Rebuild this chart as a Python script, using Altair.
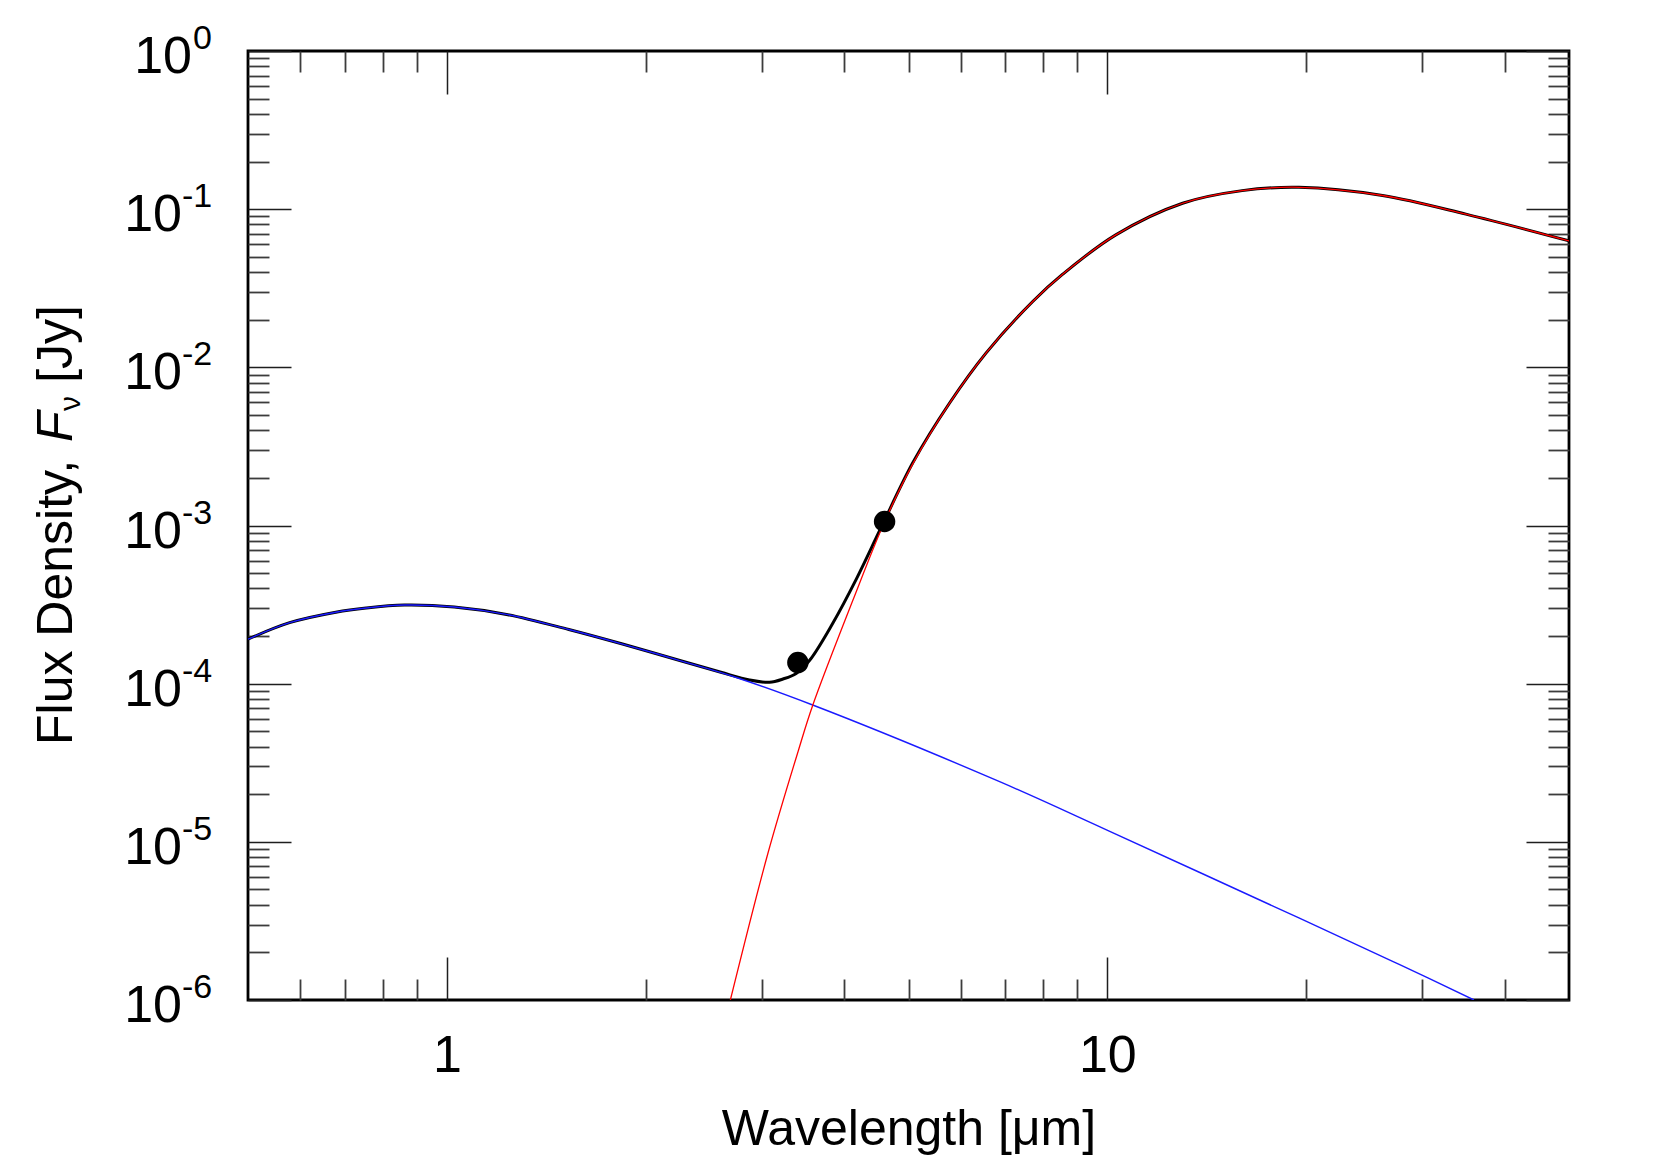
import altair as alt
import pandas as pd

FONT = "Liberation Sans"

# ---- data ----
# stellar photosphere (blue)
star_wl = [0.5, 0.578, 0.679, 0.755, 0.863, 1.026, 1.237, 1.53, 1.845, 2.253, 2.75, 3.58, 6.87, 9.97, 19.5, 27.66, 35.9]
star_flux = [1.91e-4, 2.43e-4, 2.83e-4, 3.01e-4, 3.14e-4, 3.05e-4, 2.73e-4, 2.20e-4, 1.78e-4, 1.40e-4, 1.09e-4,
             7.33e-5, 2.40e-5, 1.19e-5, 3.30e-6, 1.68e-6, 1.0e-6]

# warm dust (red)
dust_wl = [2.687, 3.063, 3.408, 3.582, 4.12, 4.60, 5.08, 5.77, 6.55, 7.71, 8.56, 10.3, 13.0, 16.0, 19.5, 26.1, 34.9, 50.0]
dust_flux = [1.0e-6, 8.47e-6, 3.81e-5, 7.33e-5, 3.38e-4, 1.057e-3, 2.47e-3, 5.93e-3, 1.23e-2, 2.61e-2, 3.88e-2,
             6.88e-2, 0.109, 0.131, 0.1375, 0.122, 0.093, 0.063]

# total model (black)
total_wl = [0.5, 0.578, 0.679, 0.755, 0.863, 1.026, 1.237, 1.53, 1.845, 2.253, 2.6, 2.873, 3.08, 3.228, 3.38, 3.54,
            3.84, 4.17, 4.47, 4.60, 5.08, 5.77, 6.55, 7.71, 8.56, 10.3, 13.0, 16.0, 19.5, 26.1, 34.9, 50.0]
total_flux = [1.91e-4, 2.43e-4, 2.83e-4, 3.01e-4, 3.14e-4, 3.05e-4, 2.73e-4, 2.20e-4, 1.78e-4, 1.40e-4, 1.18e-4,
              1.055e-4, 1.02e-4, 1.07e-4, 1.16e-4, 1.40e-4, 2.41e-4, 4.6e-4, 8.4e-4, 1.08e-3, 2.51e-3, 5.95e-3,
              1.23e-2, 2.61e-2, 3.88e-2, 6.88e-2, 0.109, 0.131, 0.1375, 0.122, 0.093, 0.063]

# photometry points
phot_wl = [3.4, 4.6]
phot_flux = [1.36e-4, 1.06e-3]

# axis ticks / labels
x_major = [1, 10]
x_minor = [0.6, 0.7, 0.8, 0.9, 2, 3, 4, 5, 6, 7, 8, 9, 20, 30, 40]
y_major = [1, 0.1, 0.01, 1e-3, 1e-4, 1e-5, 1e-6]
y_exps = ["0", "-1", "-2", "-3", "-4", "-5", "-6"]
y_minor = [m * 10.0 ** e for e in range(-6, 0) for m in range(2, 10)]

# y-axis title pieces
ytitle_parts = ["Flux Density, ", "F", "ν", "[Jy]"]

star = pd.DataFrame({"wl": star_wl, "f": star_flux})
dust = pd.DataFrame({"wl": dust_wl, "f": dust_flux})
total = pd.DataFrame({"wl": total_wl, "f": total_flux})
phot = pd.DataFrame({"wl": phot_wl, "f": phot_flux})
ylab = pd.DataFrame({"v": y_major, "exp": y_exps})

W, H = 1321, 949
xs = alt.Scale(type="log", domain=[0.5, 50], nice=False)
ys = alt.Scale(type="log", domain=[1e-6, 1], nice=False)

MAJ, MIN = 43, 21


def tick_axis(orient, values, size, color, width):
    return alt.Axis(orient=orient, values=values, tickSize=size, offset=-size, labels=False,
                    domain=False, grid=False, ticks=True, tickColor=color, tickWidth=width)


def major_axis(orient, values):
    return tick_axis(orient, values, MAJ, "#1e1e1e", 1.5)


def minor_axis(orient, values):
    return tick_axis(orient, values, MIN, "#3c3c3c", 1.8)


main_x = alt.Axis(orient="bottom", values=x_major, format="~g", ticks=False, tickSize=0, domain=False,
                  grid=False, labelFontSize=52, labelFont=FONT, labelColor="black", labelPadding=30,
                  title="Wavelength [μm]", titleFontSize=50, titleFont=FONT, titleFontWeight="normal",
                  titleColor="black", titleX=W / 2, titleY=144, titleAlign="center",
                  titleBaseline="alphabetic")
main_y = alt.Axis(orient="left", labels=False, ticks=False, domain=False, grid=False)

CURVE = "catmull-rom"

black = alt.Chart(total).mark_line(color="black", strokeWidth=3, interpolate=CURVE, clip=True).encode(
    x=alt.X("wl:Q", scale=xs, axis=main_x),
    y=alt.Y("f:Q", scale=ys, title=None, axis=main_y),
)
blue = alt.Chart(star).mark_line(color="#1a1aff", strokeWidth=1.4, interpolate=CURVE, clip=True).encode(
    x=alt.X("wl:Q", scale=xs, title=None, axis=major_axis("bottom", x_major)),
    y=alt.Y("f:Q", scale=ys, title=None, axis=major_axis("left", y_major)),
)
red = alt.Chart(dust).mark_line(color="#ff0000", strokeWidth=1.3, interpolate=CURVE, clip=True).encode(
    x=alt.X("wl:Q", scale=xs, title=None, axis=minor_axis("bottom", x_minor)),
    y=alt.Y("f:Q", scale=ys, title=None, axis=minor_axis("left", y_minor)),
)
dots = alt.Chart(phot).mark_circle(color="black", opacity=1, size=460).encode(
    x=alt.X("wl:Q", scale=xs, title=None, axis=major_axis("top", x_major)),
    y=alt.Y("f:Q", scale=ys, title=None, axis=major_axis("right", y_major)),
)
carrier = alt.Chart(phot).mark_point(opacity=0).encode(
    x=alt.X("wl:Q", scale=xs, title=None, axis=minor_axis("top", x_minor)),
    y=alt.Y("f:Q", scale=ys, title=None, axis=minor_axis("right", y_minor)),
)

# y tick labels: "10" with superscript exponent
lab_base = alt.Chart(ylab).encode(y=alt.Y("v:Q", scale=ys, axis=None), text="base:N").transform_calculate(base="'10'")
lab_exp = alt.Chart(ylab).encode(y=alt.Y("v:Q", scale=ys, axis=None), text="exp:N")

base_zero = lab_base.transform_filter("datum.exp == '0'").mark_text(
    align="right", baseline="alphabetic", dy=22, fontSize=52, font=FONT, color="black").encode(x=alt.value(-56))
base_neg = lab_base.transform_filter("datum.exp != '0'").mark_text(
    align="right", baseline="alphabetic", dy=22, fontSize=52, font=FONT, color="black").encode(x=alt.value(-66))
exp_zero = lab_exp.transform_filter("datum.exp == '0'").mark_text(
    align="left", baseline="alphabetic", dy=-2, fontSize=34, font=FONT, color="black").encode(x=alt.value(-55))
exp_neg = lab_exp.transform_filter("datum.exp != '0'").mark_text(
    align="left", baseline="alphabetic", dy=-2, fontSize=34, font=FONT, color="black").encode(x=alt.value(-66))

# y axis title (rotated), built from pieces: plain text, italic F, subscript nu, unit
TX = -176
title_src = alt.Chart(pd.DataFrame({"t": ytitle_parts}))
yt_plain = title_src.transform_filter(alt.datum.t == ytitle_parts[0]).mark_text(
    angle=270, align="left", baseline="alphabetic", fontSize=50, font=FONT, color="black"
).encode(text="t:N", x=alt.value(TX), y=alt.value(694))
yt_F = title_src.transform_filter(alt.datum.t == ytitle_parts[1]).mark_text(
    angle=270, align="left", baseline="alphabetic", fontSize=50, font=FONT, fontStyle="italic", color="black"
).encode(text="t:N", x=alt.value(TX), y=alt.value(391))
yt_nu = title_src.transform_filter(alt.datum.t == ytitle_parts[2]).mark_text(
    angle=270, align="left", baseline="alphabetic", fontSize=30, font=FONT, color="black"
).encode(text="t:N", x=alt.value(TX + 8), y=alt.value(360))
yt_unit = title_src.transform_filter(alt.datum.t == ytitle_parts[3]).mark_text(
    angle=270, align="right", baseline="alphabetic", fontSize=50, font=FONT, color="black"
).encode(text="t:N", x=alt.value(TX), y=alt.value(254))

chart = alt.layer(
    black, blue, red, dots, carrier,
    base_zero, base_neg, exp_zero, exp_neg,
    yt_plain, yt_F, yt_nu, yt_unit,
).resolve_axis(
    x="independent", y="independent"
).properties(
    width=W, height=H,
    background="white",
    autosize=alt.AutoSizeParams(type="none"),
    padding={"left": 240, "top": 43, "right": 80, "bottom": 155},
).configure_view(stroke="black", strokeWidth=2.8)

chart.save("out.html", embed_options={"renderer": "svg", "actions": False})
